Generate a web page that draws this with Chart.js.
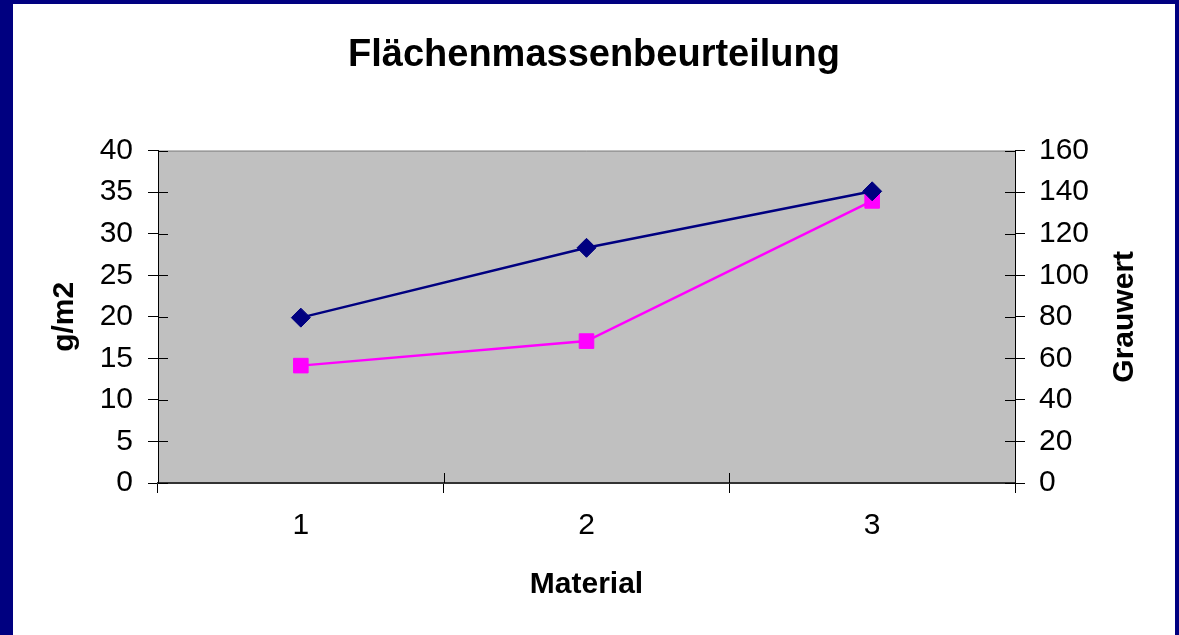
<!DOCTYPE html>
<html>
<head>
<meta charset="utf-8">
<script src="https://cdn.jsdelivr.net/npm/chart.js@4/dist/chart.umd.min.js"></script>
<style>
html, body { margin: 0; padding: 0; background: #000080; overflow: hidden; }
#chart { position: absolute; left: 13px; top: 4px; background: #ffffff; }
</style>
</head>
<body>
<canvas id="chart" width="1162" height="631"></canvas>
<script>
var categories = ['1', '2', '3'];
var flaechenmasse = [19.9, 28.3, 35.1];   // g/m2, left axis
var grauwert = [56.5, 68.3, 135.8];       // right axis

var titleText = 'Flächenmassenbeurteilung';
var fontFamily = '"Liberation Sans", Arial, sans-serif';

// gray plot area with a thin top border
var plotBackground = {
	id: 'plotBackground',
	beforeDraw: function(chart) {
		var a = chart.chartArea;
		var ctx = chart.ctx;
		ctx.save();
		ctx.fillStyle = '#c0c0c0';
		ctx.fillRect(a.left, a.top, a.right - a.left, a.bottom - a.top);
		ctx.strokeStyle = '#808080';
		ctx.lineWidth = 1;
		ctx.beginPath();
		ctx.moveTo(a.left, a.top + 0.5);
		ctx.lineTo(a.right, a.top + 0.5);
		ctx.stroke();
		ctx.restore();
	}
};

// tick marks crossing the axes (inside part) and the right axis title
var innerTicks = {
	id: 'innerTicks',
	afterDatasetsDraw: function(chart) {
		var a = chart.chartArea;
		var ctx = chart.ctx;
		var len = 10;
		ctx.save();
		ctx.strokeStyle = '#000';
		ctx.lineWidth = 1;
		ctx.beginPath();
		chart.scales.y.ticks.forEach(function(t, i) {
			var py = Math.round(chart.scales.y.getPixelForTick(i)) + 0.5;
			ctx.moveTo(a.left, py);
			ctx.lineTo(a.left + len, py);
		});
		chart.scales.y1.ticks.forEach(function(t, i) {
			var py = Math.round(chart.scales.y1.getPixelForTick(i)) + 0.5;
			ctx.moveTo(a.right - len, py);
			ctx.lineTo(a.right, py);
		});
		for (var i = 0; i <= categories.length; i++) {
			var px = Math.round(chart.scales.x.getPixelForValue(i - 0.5)) + 0.5;
			ctx.moveTo(px, a.bottom - len);
			ctx.lineTo(px, a.bottom);
		}
		ctx.stroke();

		var s = chart.scales.y1;
		ctx.translate(s.right - 42, (a.top + a.bottom) / 2);
		ctx.rotate(-Math.PI / 2);
		ctx.font = 'bold 30px ' + fontFamily;
		ctx.fillStyle = '#000';
		ctx.textAlign = 'center';
		ctx.textBaseline = 'alphabetic';
		ctx.fillText('Grauwert', 0, 0);
		ctx.restore();
	}
};

var ctx = document.getElementById('chart').getContext('2d');

var chart = new Chart(ctx, {
	type: 'line',
	data: {
		labels: categories,
		datasets: [
			{
				label: 'g/m2',
				data: flaechenmasse,
				yAxisID: 'y',
				borderColor: '#000080',
				backgroundColor: '#000080',
				borderWidth: 2.5,
				pointStyle: 'rectRot',
				pointRadius: 9.5,
				pointBorderWidth: 1,
				tension: 0
			},
			{
				label: 'Grauwert',
				data: grauwert,
				yAxisID: 'y1',
				borderColor: '#ff00ff',
				backgroundColor: '#ff00ff',
				borderWidth: 2.5,
				pointStyle: 'rect',
				pointRadius: 10.3,
				pointBorderWidth: 1,
				tension: 0,
				order: 1
			}
		]
	},
	options: {
		responsive: false,
		animation: false,
		layout: { padding: 0 },
		plugins: {
			legend: { display: false },
			tooltip: { enabled: false },
			title: {
				display: true,
				text: titleText,
				color: '#000',
				font: { family: fontFamily, size: 38, weight: 'bold' },
				padding: { top: 29, bottom: 72 }
			}
		},
		scales: {
			x: {
				type: 'category',
				offset: true,
				grid: { offset: true, drawOnChartArea: false, drawTicks: true, tickLength: 10, tickColor: '#000' },
				border: { color: '#333', width: 2 },
				ticks: { color: '#000', padding: 15, font: { family: fontFamily, size: 30 } },
				title: {
					display: true,
					text: 'Material',
					color: '#000',
					font: { family: fontFamily, size: 30, weight: 'bold' },
					padding: { top: 0, bottom: 32 }
				},
				afterFit: function(scale) { scale.height = 152; }
			},
			y: {
				position: 'left',
				min: 0,
				max: 40,
				ticks: { stepSize: 5, color: '#000', padding: 15, font: { family: fontFamily, size: 30 } },
				grid: { drawOnChartArea: false, tickLength: 10, tickColor: '#000' },
				border: { color: '#000', width: 1 },
				title: {
					display: true,
					text: 'g/m2',
					color: '#000',
					font: { family: fontFamily, size: 30, weight: 'bold' },
					padding: { top: 34, bottom: 0 }
				},
				afterFit: function(scale) { scale.width = 145; }
			},
			y1: {
				position: 'right',
				min: 0,
				max: 160,
				ticks: { stepSize: 20, color: '#000', padding: 14, font: { family: fontFamily, size: 30 } },
				grid: { drawOnChartArea: false, tickLength: 10, tickColor: '#000' },
				border: { color: '#000', width: 1 },
				afterFit: function(scale) { scale.width = 160; }
			}
		}
	},
	plugins: [plotBackground, innerTicks]
});
</script>
</body>
</html>
